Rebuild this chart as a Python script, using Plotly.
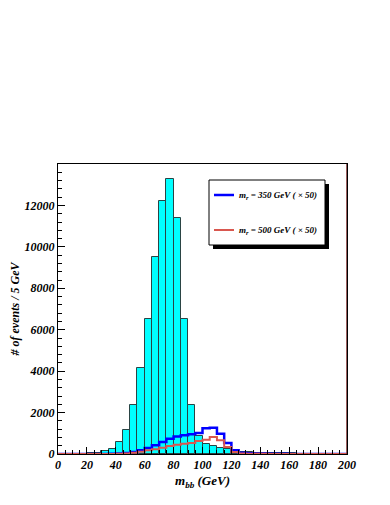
import plotly.graph_objects as go
import numpy as np

# bin lower edges (GeV), 5 GeV bins from 0 to 200
bin_edges = list(range(0, 205, 5))

# background (cyan filled histogram), events / 5 GeV
background = [0, 0, 5, 10, 30, 50, 130, 240, 600, 1180,
              2350, 4170, 6500, 9500, 12200, 13300, 11400, 6500, 2380, 850,
              500, 390, 290, 250, 150, 100, 80, 70, 60, 50,
              40, 30, 25, 20, 15, 12, 10, 8, 6, 5]

# m_r = 350 GeV signal (x50)
signal_350 = [0, 0, 0, 0, 0, 0, 5, 10, 20, 50,
              100, 180, 290, 420, 580, 740, 850, 900, 950, 1010,
              1240, 1270, 980, 530, 180, 60, 40, 30, 20, 15,
              10, 8, 6, 5, 4, 3, 2, 2, 1, 1]

# m_r = 500 GeV signal (x50)
signal_500 = [0, 0, 0, 0, 0, 0, 2, 5, 10, 30,
              60, 110, 180, 225, 300, 390, 450, 500, 530, 630,
              690, 820, 660, 340, 100, 20, 15, 10, 8, 6,
              5, 4, 3, 3, 2, 2, 1, 1, 1, 1]

x_ticks = list(range(0, 201, 20))
y_ticks = list(range(0, 12001, 2000))

legend_350 = "m<sub>r</sub> = 350 GeV ( × 50)"
legend_500 = "m<sub>r</sub> = 500 GeV ( × 50)"

edges = np.array(bin_edges, dtype=float)
centers = (edges[:-1] + edges[1:]) / 2

FONT = "Liberation Serif, Times New Roman, serif"
BLUE = "#0000ff"
RED = "#d9574f"

fig = go.Figure()
fig.add_trace(go.Bar(
    x=centers, y=background, width=5,
    marker=dict(color="#00ffff", line=dict(color="#2a4444", width=1)),
    showlegend=False, hoverinfo="skip"))

def step(vals):
    xs = list(edges)
    ys = list(vals) + [vals[-1]]
    return xs, ys

xs, ys = step(signal_350)
fig.add_trace(go.Scatter(x=xs, y=ys, mode="lines", line=dict(color=BLUE, width=2.5, shape="hv"),
                         name=legend_350, showlegend=False, cliponaxis=False))
xs, ys = step(signal_500)
fig.add_trace(go.Scatter(x=xs, y=ys, mode="lines", line=dict(color=RED, width=2, shape="hv"),
                         name=legend_500, showlegend=False, cliponaxis=False))

tickfont = dict(family=FONT, size=12, color="black", style="italic", weight="bold")

def bi(v):
    return "<b><i>%s</i></b>" % v

fig.update_layout(
    width=390, height=505,
    margin=dict(l=50, r=51, t=156, b=59, autoexpand=False),
    paper_bgcolor="white", plot_bgcolor="white",
    bargap=0,
    showlegend=False,
    xaxis=dict(range=[0, 200], tickvals=x_ticks, ticktext=[bi(v) for v in x_ticks],
               ticks="inside", ticklen=7, tickcolor="black",
               tickfont=tickfont, showgrid=False, zeroline=False, automargin=False,
               showline=True, linecolor="black", linewidth=1, mirror=True,
               minor=dict(dtick=5, ticks="inside", ticklen=4, tickcolor="black", showgrid=False),
               title=dict(text="<b><i>m<sub>bb</sub> (GeV)</i></b>",
                          font=dict(family=FONT, size=13, color="black", style="italic", weight="bold"),
                          standoff=4)),
    yaxis=dict(range=[0, 14000], tickvals=y_ticks, ticktext=[bi(v) for v in y_ticks],
               ticks="inside", ticklen=7, tickcolor="black",
               tickfont=tickfont, showgrid=False, zeroline=False, automargin=False,
               showline=True, linecolor="black", linewidth=1, mirror=True,
               minor=dict(dtick=400, ticks="inside", ticklen=4, tickcolor="black", showgrid=False),
               title=dict(text="<b><i># of events / 5 GeV</i></b>",
                          font=dict(family=FONT, size=12, color="black", style="italic", weight="bold"),
                          standoff=12)),
)

# right frame edge (dark red, as in the original)
fig.add_shape(type="line", xref="x", yref="paper", x0=200, x1=200, y0=0, y1=1,
              line=dict(color="#7a2a2a", width=1.5), layer="above")

# ---- legend box (ROOT style, with drop shadow) ----
PW, PH = 289.0, 290.0          # plot area size in px
def px(x):  # pixel x (relative to plot-left at 58) -> paper
    return (x - 58) / PW
def py(y):  # pixel y (plot bottom at 454) -> paper
    return (454 - y) / PH

bx0, bx1, by0, by1 = 209, 325, 180, 245
fig.add_shape(type="rect", xref="paper", yref="paper",
              x0=px(bx0 + 4), x1=px(bx1 + 4), y0=py(by1 + 4), y1=py(by0 + 4),
              fillcolor="black", line=dict(width=0), layer="above")
fig.add_shape(type="rect", xref="paper", yref="paper",
              x0=px(bx0), x1=px(bx1), y0=py(by1), y1=py(by0),
              fillcolor="white", line=dict(color="black", width=1), layer="above")

for label, color, width, ypix in [(legend_350, BLUE, 2.5, 195), (legend_500, RED, 2, 230)]:
    fig.add_shape(type="line", xref="paper", yref="paper",
                  x0=px(214), x1=px(234), y0=py(ypix), y1=py(ypix),
                  line=dict(color=color, width=width), layer="above")
    fig.add_annotation(xref="paper", yref="paper", x=px(237), y=py(ypix),
                       xanchor="left", yanchor="middle", showarrow=False,
                       text="<b><i>%s</i></b>" % label,
                       font=dict(family=FONT, size=9, color="black", style="italic", weight="bold"))

fig.write_html("out.html")
